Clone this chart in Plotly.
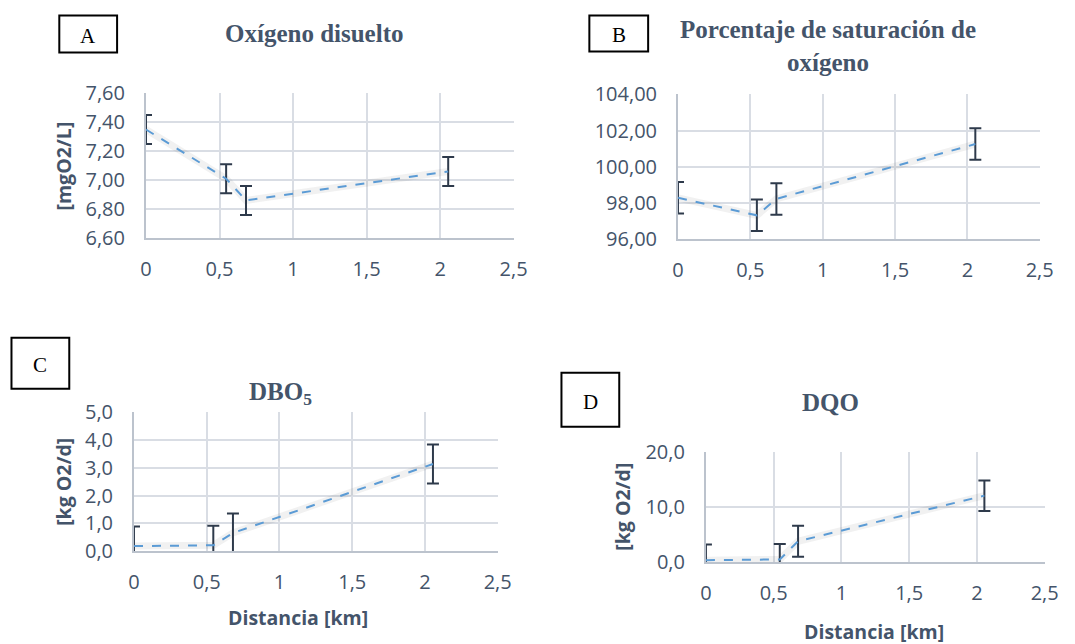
import plotly.graph_objects as go

W, H = 1075, 644

# ---- data ----
distancia_km = [0, 0.545, 0.68, 2.055]
oxigeno_disuelto = [7.35, 7.01, 6.86, 7.06]
oxigeno_disuelto_err = [0.10, 0.10, 0.10, 0.10]
saturacion = [98.28, 97.31, 98.22, 101.25]
saturacion_err = [0.87, 0.87, 0.87, 0.87]
dbo5 = [0.19, 0.22, 0.66, 3.13]
dbo5_err = [0.70, 0.70, 0.70, 0.70]
dqo = [0.41, 0.53, 3.82, 12.05]
dqo_err = [2.80, 2.80, 2.80, 2.75]
x_ticks = [0, 0.5, 1, 1.5, 2, 2.5]

LINE = "#5B9BD5"
ERR = "#2E3A4B"
TXT = "#44546A"
GRID = "#D9DDE4"
AXL = "#BCC3CD"
TICKFONT = dict(family="Open Sans", size=20, color=TXT)

# the photographed page appears slightly inset/scaled; compensate layout positions
AX, BX = 3.5, 0.985
AY, BY = 12.5, 0.96


def px(x):
    return ((x - AX) / BX) / W


def py(y):
    return 1 - ((y - AY) / BY) / H


panels = [
    # (x px range, y px range, y values, err, yrange, dtick, fmt)
    ((144, 513), (92, 237), oxigeno_disuelto, oxigeno_disuelto_err, [6.6, 7.6], 0.2, ".2f"),
    ((678, 1041), (93, 238), saturacion, saturacion_err, [96, 104], 2, ".2f"),
    ((132, 497), (411, 551), dbo5, dbo5_err, [0, 5], 1, ".1f"),
    ((706, 1046), (451, 562), dqo, dqo_err, [0, 20], 10, ".1f"),
]

fig = go.Figure()
layout = dict(
    width=W, height=H, margin=dict(l=0, r=0, t=0, b=0),
    paper_bgcolor="white", plot_bgcolor="white",
    separators=",.", showlegend=False,
)

for i, (xr, yr, vals, err, rng, dt, fmt) in enumerate(panels):
    n = "" if i == 0 else str(i + 1)
    # soft shadow under the line (Excel shadow effect)
    fig.add_trace(go.Scatter(
        x=distancia_km, y=vals, mode="lines",
        line=dict(color="rgba(60,60,60,0.07)", width=7),
        xaxis="x" + n, yaxis="y" + n, hoverinfo="skip",
    ))
    fig.add_trace(go.Scatter(
        x=distancia_km, y=vals, mode="lines",
        line=dict(color=LINE, width=2, dash="dash"),
        error_y=dict(type="data", array=err, visible=True, color=ERR, thickness=2, width=6),
        xaxis="x" + n, yaxis="y" + n, hoverinfo="skip",
    ))
    layout["xaxis" + n] = dict(
        domain=[px(xr[0]), px(xr[1])], anchor="y" + n, range=[0, 2.5],
        tickvals=x_ticks, showgrid=True, gridcolor=GRID, gridwidth=1.5,
        showline=True, linecolor=AXL, linewidth=2, zeroline=False,
        tickfont=TICKFONT, ticks="", ticklabelstandoff=12,
    )
    layout["yaxis" + n] = dict(
        domain=[py(yr[1]), py(yr[0])], anchor="x" + n, range=rng, dtick=dt,
        tick0=rng[0], tickformat=fmt, showgrid=True, gridcolor=GRID, gridwidth=1.5,
        showline=True, linecolor=AXL, linewidth=2, zeroline=False,
        tickfont=TICKFONT, ticks="", ticklabelstandoff=15,
    )

fig.update_layout(**layout)

TITLEFONT = dict(family="Liberation Serif", size=25, color=TXT)
AXTFONT = dict(family="Open Sans", size=19.5, color=TXT)

annotations = [
    dict(text="<b>Oxígeno disuelto</b>", x=px(313), y=py(32), font=TITLEFONT),
    dict(text="<b>Porcentaje de saturación de<br>oxígeno</b>", x=px(829), y=py(45), font=TITLEFONT),
    dict(text="<b>DBO<sub>5</sub></b>", x=px(279), y=py(393), font=TITLEFONT),
    dict(text="<b>DQO</b>", x=px(831), y=py(402), font=TITLEFONT),
    dict(text="<b>[mgO2/L]</b>", x=px(61), y=py(165), font=AXTFONT, textangle=-90),
    dict(text="<b>[kg O2/d]</b>", x=px(61), y=py(481), font=AXTFONT, textangle=-90),
    dict(text="<b>[kg O2/d]</b>", x=px(622), y=py(506), font=AXTFONT, textangle=-90),
    dict(text="<b>Distancia [km]</b>", x=px(297), y=py(617), font=AXTFONT),
    dict(text="<b>Distancia [km]</b>", x=px(875), y=py(631), font=AXTFONT),
]

boxes = [("A", 57, 14, 115, 51), ("B", 589, 14, 648, 50), ("C", 9, 337, 67, 388), ("D", 561, 372, 619, 426)]
shapes = []
for lab, x0, y0, x1, y1 in boxes:
    shapes.append(dict(type="rect", xref="paper", yref="paper", x0=px(x0), x1=px(x1),
                       y0=py(y1), y1=min(py(y0), 0.998), line=dict(color="black", width=2),
                       fillcolor="white"))
    annotations.append(dict(text=lab, x=px((x0 + x1) / 2), y=py((y0 + y1) / 2 + 2),
                            font=dict(family="Liberation Serif", size=21, color="black")))

for a in annotations:
    a.update(xref="paper", yref="paper", xanchor="center", yanchor="middle", showarrow=False)

fig.update_layout(annotations=annotations, shapes=shapes)
fig.write_html("out.html")
